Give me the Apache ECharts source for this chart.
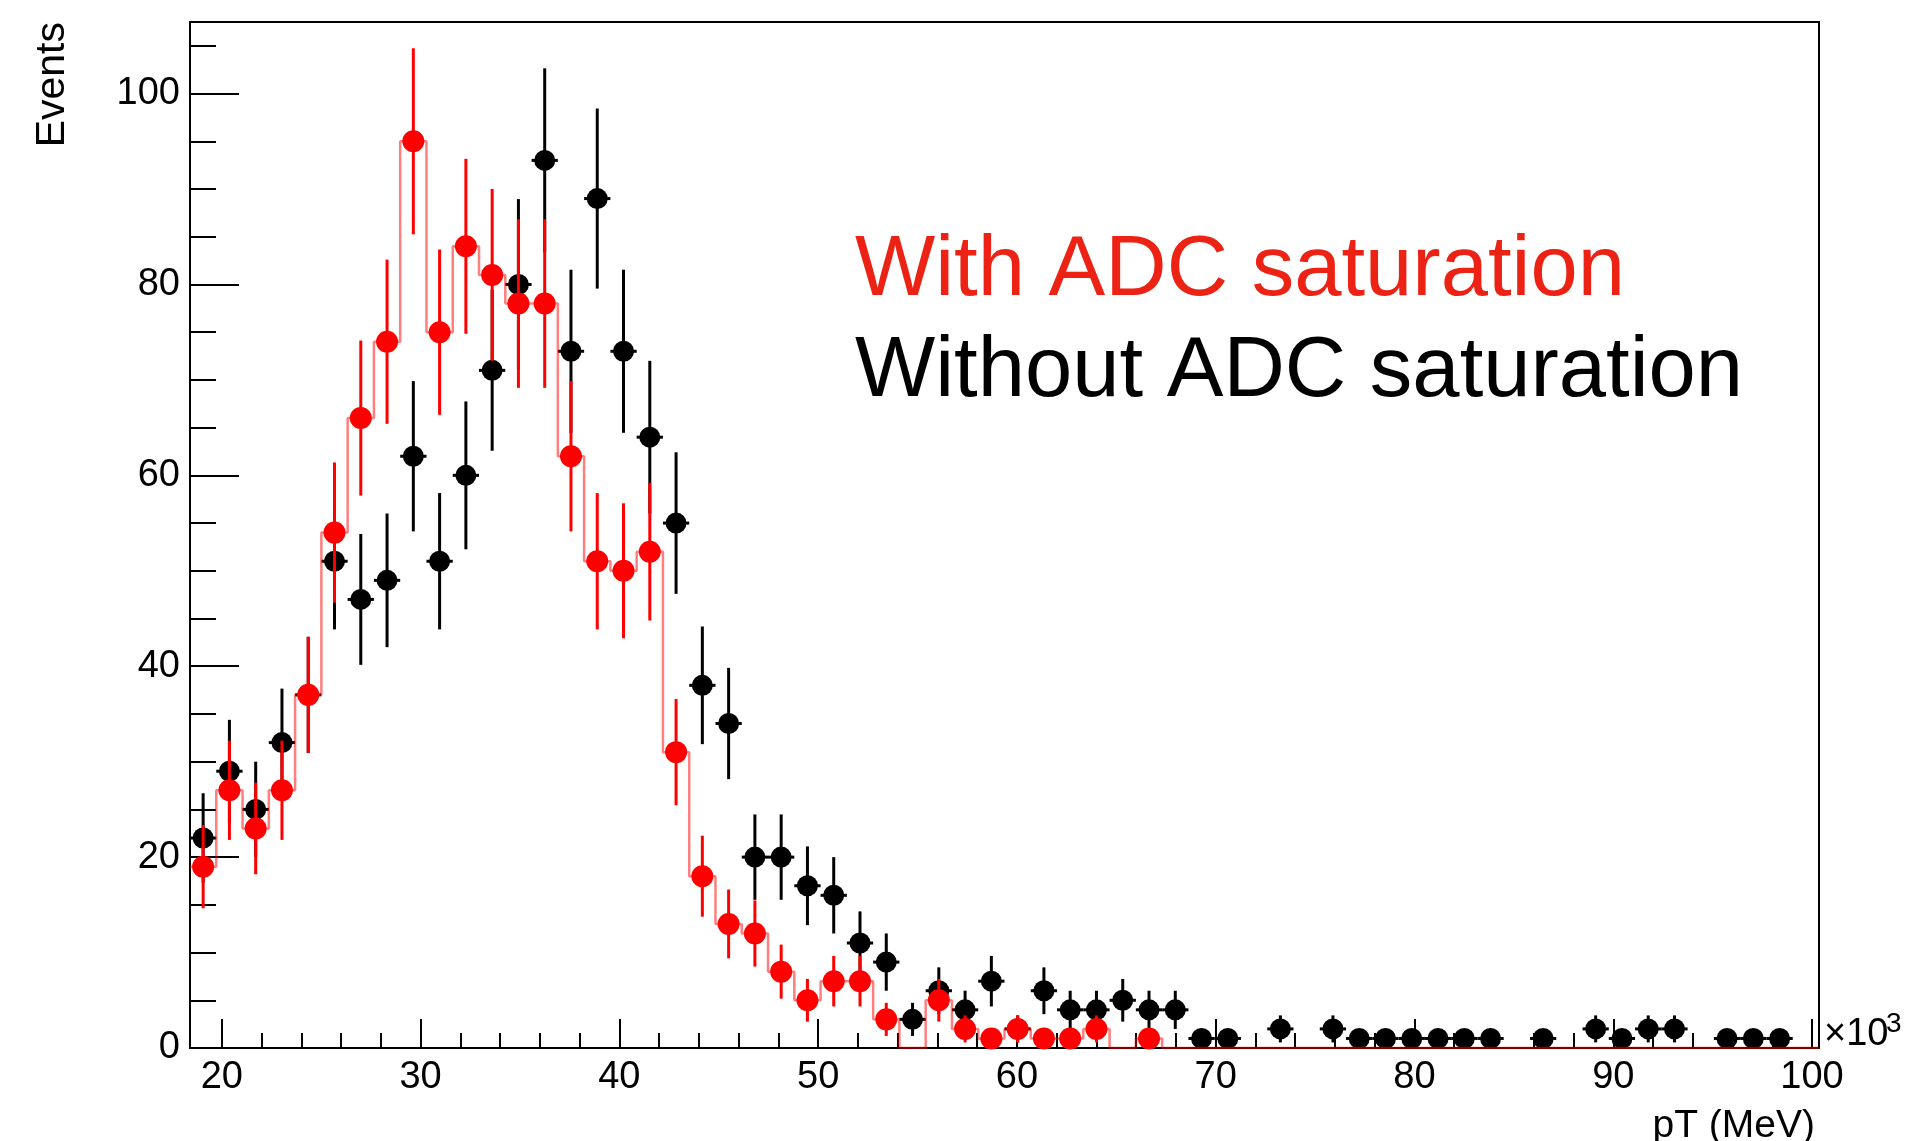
<!DOCTYPE html>
<html>
<head>
<meta charset="utf-8">
<title>pT with / without ADC saturation</title>
<script src="https://cdn.jsdelivr.net/npm/echarts@6/dist/echarts.min.js"></script>
<style>
  html, body { margin: 0; padding: 0; background: #fff; }
  #main { width: 1906px; height: 1141px; }
</style>
</head>
<body>
<div id="main"></div>
<script>
// histogram binning, x in units of 10^3 MeV
const xMin = 18.4;
const xMax = 100.35;
const binCount = 62;
const yMax = 107.5;

// events per bin
const countsWith = [
  19, 27, 23, 27, 37, 54, 66, 74, 95, 75, 84, 81, 78, 78, 62, 51, 50, 52, 31, 18,
  13, 12, 8, 5, 7, 7, 3, 0, 5, 2, 1, 2, 1, 1, 2, 0, 1, 0, 0, 0,
  0, 0, 0, 0, 0, 0, 0, 0, 0, 0, 0, 0, 0, 0, 0, 0, 0, 0, 0, 0,
  0, 0
];
const countsWithout = [
  22, 29, 25, 32, 37, 51, 47, 49, 62, 51, 60, 71, 80, 93, 73, 89, 73, 64, 55, 38,
  34, 20, 20, 17, 16, 11, 9, 3, 6, 4, 7, 2, 6, 4, 4, 5, 4, 4, 1, 1,
  0, 2, 0, 2, 1, 1, 1, 1, 1, 1, 0, 1, 0, 2, 1, 2, 2, 0, 1, 1,
  1, 0
];

const xTickLabels = [20, 30, 40, 50, 60, 70, 80, 90, 100];
const yTickLabels = [0, 20, 40, 60, 80, 100];

const FONT = '"Liberation Sans", Arial, Helvetica, sans-serif';
const RED = '#ff0000';
const binWidth = (xMax - xMin) / binCount;

function points(counts) {
  // only non-empty bins get a marker
  const out = [];
  counts.forEach((c, i) => {
    if (c > 0) out.push([xMin + (i + 0.5) * binWidth, c]);
  });
  return out;
}

function histLine(counts) {
  const out = counts.map((c, i) => [xMin + i * binWidth, c]);
  out.push([xMax, counts[counts.length - 1]]);
  return out;
}

// poisson error bars: sqrt(N) vertical, optional half-bin horizontal
function errorBars(color, withXErr) {
  return function (params, api) {
    const x = api.value(0);
    const v = api.value(1);
    const e = Math.sqrt(v);
    const top = api.coord([x, v + e]);
    const bot = api.coord([x, v - e]);
    const style = { stroke: color, lineWidth: 3 };
    const children = [
      { type: 'line', shape: { x1: top[0], y1: top[1], x2: bot[0], y2: bot[1] }, style: style }
    ];
    if (withXErr) {
      const l = api.coord([x - binWidth / 2, v]);
      const r = api.coord([x + binWidth / 2, v]);
      children.push({ type: 'line', shape: { x1: l[0], y1: l[1], x2: r[0], y2: r[1] }, style: style });
    }
    return { type: 'group', children: children };
  };
}

const myChart = echarts.init(document.getElementById('main'));

const option = {
  backgroundColor: '#fff',
  animation: false,
  grid: {
    left: 190,
    right: 87,
    top: 22,
    bottom: 93,
    show: true,
    borderColor: '#000',
    borderWidth: 2,
    backgroundColor: 'transparent',
    containLabel: false,
    outerBoundsMode: 'none'
  },
  xAxis: [
    {
      // minor ticks
      type: 'value',
      min: xMin,
      max: xMax,
      minInterval: 2,
      maxInterval: 2,
      position: 'bottom',
      axisLine: { show: true, lineStyle: { color: '#000', width: 2 } },
      axisTick: { show: true, inside: true, length: 15, lineStyle: { color: '#000', width: 2 } },
      axisLabel: { show: false },
      splitLine: { show: false }
    },
    {
      // major ticks + labels
      type: 'value',
      min: xMin,
      max: xMax,
      minInterval: 10,
      maxInterval: 10,
      position: 'bottom',
      axisLine: { show: false },
      axisTick: { show: true, inside: true, length: 29, lineStyle: { color: '#000', width: 2 } },
      axisLabel: {
        show: true,
        margin: 30,
        verticalAlign: 'middle',
        color: '#000',
        fontSize: 38,
        fontFamily: FONT,
        hideOverlap: false,
        formatter: v => (xTickLabels.includes(v) ? String(v) : '')
      },
      splitLine: { show: false }
    }
  ],
  yAxis: [
    {
      type: 'value',
      min: 0,
      max: yMax,
      minInterval: 5,
      maxInterval: 5,
      position: 'left',
      axisLine: { show: true, lineStyle: { color: '#000', width: 2 } },
      axisTick: { show: true, inside: true, length: 26, lineStyle: { color: '#000', width: 2 } },
      axisLabel: { show: false },
      splitLine: { show: false }
    },
    {
      type: 'value',
      min: 0,
      max: yMax,
      interval: 20,
      position: 'left',
      axisLine: { show: false },
      axisTick: { show: true, inside: true, length: 49, lineStyle: { color: '#000', width: 2 } },
      axisLabel: {
        show: true,
        margin: 10,
        color: '#000',
        fontSize: 38,
        fontFamily: FONT,
        hideOverlap: false,
        formatter: v => (yTickLabels.includes(v) ? String(v) : '')
      },
      splitLine: { show: false }
    }
  ],
  series: [
    {
      name: 'Without ADC saturation errors',
      type: 'custom',
      xAxisIndex: 0,
      yAxisIndex: 0,
      z: 2,
      renderItem: errorBars('#000', true),
      encode: { x: 0, y: 1 },
      data: points(countsWithout)
    },
    {
      name: 'Without ADC saturation',
      type: 'scatter',
      xAxisIndex: 0,
      yAxisIndex: 0,
      z: 3,
      symbol: 'circle',
      symbolSize: 21,
      itemStyle: { color: '#000', opacity: 1 },
      data: points(countsWithout)
    },
    {
      name: 'With ADC saturation hist',
      type: 'line',
      xAxisIndex: 0,
      yAxisIndex: 0,
      z: 4,
      step: 'end',
      symbol: 'none',
      lineStyle: { color: 'rgba(255,0,0,0.5)', width: 2.5 },
      data: histLine(countsWith)
    },
    {
      name: 'With ADC saturation errors',
      type: 'custom',
      xAxisIndex: 0,
      yAxisIndex: 0,
      z: 5,
      renderItem: errorBars(RED, false),
      encode: { x: 0, y: 1 },
      data: points(countsWith)
    },
    {
      name: 'With ADC saturation',
      type: 'scatter',
      xAxisIndex: 0,
      yAxisIndex: 0,
      z: 6,
      symbol: 'circle',
      symbolSize: 22,
      itemStyle: { color: RED, opacity: 1 },
      data: points(countsWith)
    }
  ],
  graphic: [
    {
      type: 'text', x: 855, y: 272, z: 10,
      style: { text: 'With ADC saturation', fontSize: 85, fontFamily: FONT, fill: '#ec2314', align: 'left', verticalAlign: 'middle' }
    },
    {
      type: 'text', x: 855, y: 373, z: 10,
      style: { text: 'Without ADC saturation', fontSize: 85, fontFamily: FONT, fill: '#000', align: 'left', verticalAlign: 'middle' }
    },
    {
      type: 'text', x: 53, y: 22, rotation: Math.PI / 2, z: 10,
      style: { text: 'Events', fontSize: 41, fontFamily: FONT, fill: '#000', align: 'right', verticalAlign: 'middle' }
    },
    {
      type: 'text', x: 1815, y: 1126.5, z: 10,
      style: { text: 'pT (MeV)', fontSize: 39, fontFamily: FONT, fill: '#000', align: 'right', verticalAlign: 'middle' }
    },
    {
      type: 'text', x: 1824, y: 1035, z: 10,
      style: { text: '\u00d710', fontSize: 38, fontFamily: FONT, fill: '#000', align: 'left', verticalAlign: 'middle' }
    },
    {
      type: 'text', x: 1886, y: 1024, z: 10,
      style: { text: '3', fontSize: 28, fontFamily: FONT, fill: '#000', align: 'left', verticalAlign: 'middle' }
    }
  ]
};

myChart.setOption(option);
</script>
</body>
</html>
